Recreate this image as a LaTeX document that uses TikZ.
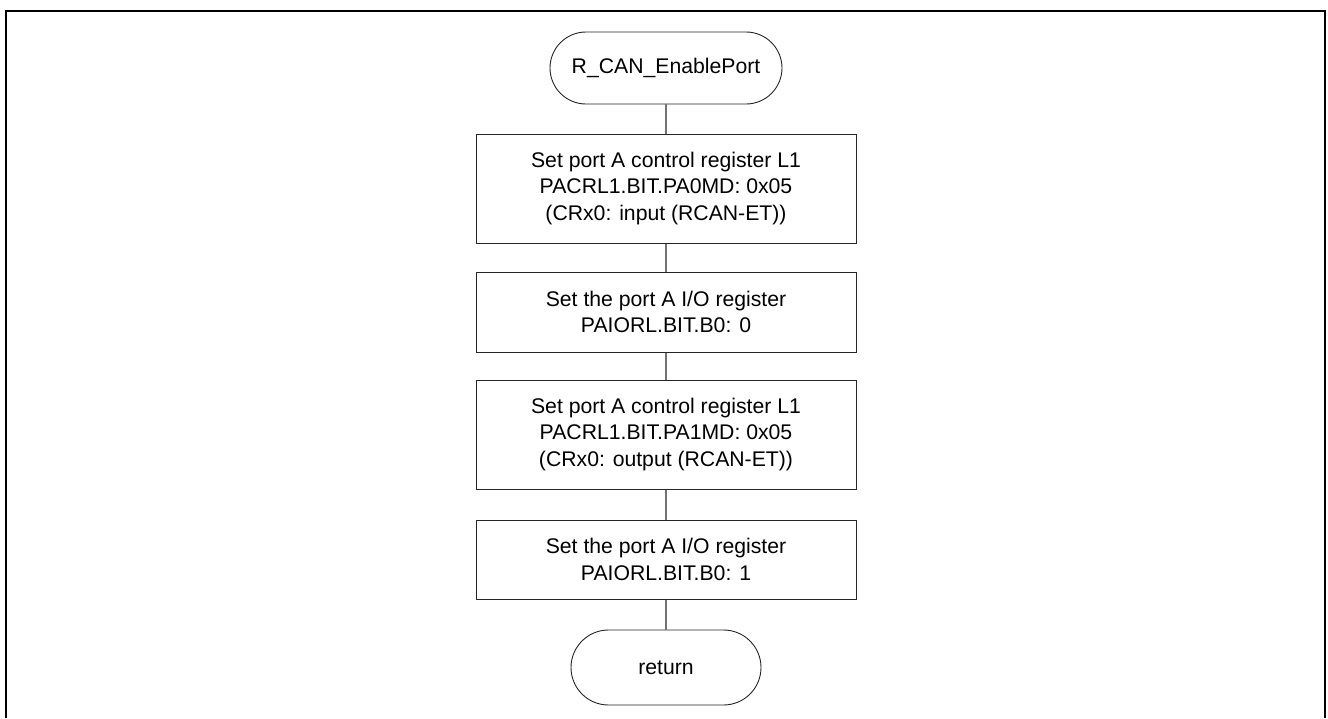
\documentclass[tikz,border=0pt]{standalone}
\usepackage{fontspec}
\setmainfont{Liberation Sans}
\usetikzlibrary{positioning}
\begin{document}
\begin{tikzpicture}[x=1pt,y=-1pt,
  every node/.style={font=\fontsize{21.2}{26.5}\selectfont, inner sep=0pt, align=center},
  procbox/.style={draw=black!85, line width=1pt, rectangle, minimum width=380pt},
  termbox/.style={draw=black!85, line width=0.9pt, rectangle, rounded corners=#1},
  conn/.style={draw=black!55, line width=1.2pt}]
\useasboundingbox (0,0) rectangle (1328,718);
\draw[line width=2pt] (6,718) -- (6,11) -- (1325,11) -- (1325,718);
\node[termbox=36pt, minimum width=232pt, minimum height=72pt] (start) at (666,68) {R\_CAN\_EnablePort};
\node[procbox, minimum height=109pt] (b1) at (666,188.5) {Set port A control register L1\\PACRL1.BIT.PA0MD: 0x05\\(CRx0: input (RCAN-ET))};
\node[procbox, minimum height=80pt] (b2) at (666,312) {Set the port A I/O register\\PAIORL.BIT.B0: 0};
\node[procbox, minimum height=109pt] (b3) at (666,434.5) {Set port A control register L1\\PACRL1.BIT.PA1MD: 0x05\\(CRx0: output (RCAN-ET))};
\node[procbox, minimum height=79pt] (b4) at (666,559.5) {Set the port A I/O register\\PAIORL.BIT.B0: 1};
\node[termbox=37.5pt, minimum width=190pt, minimum height=75pt] (ret) at (666,667.5) {return};
\draw[conn] (start.south) -- (b1.north);
\draw[conn] (b1.south) -- (b2.north);
\draw[conn] (b2.south) -- (b3.north);
\draw[conn] (b3.south) -- (b4.north);
\draw[conn] (b4.south) -- (ret.north);
\end{tikzpicture}
\end{document}
